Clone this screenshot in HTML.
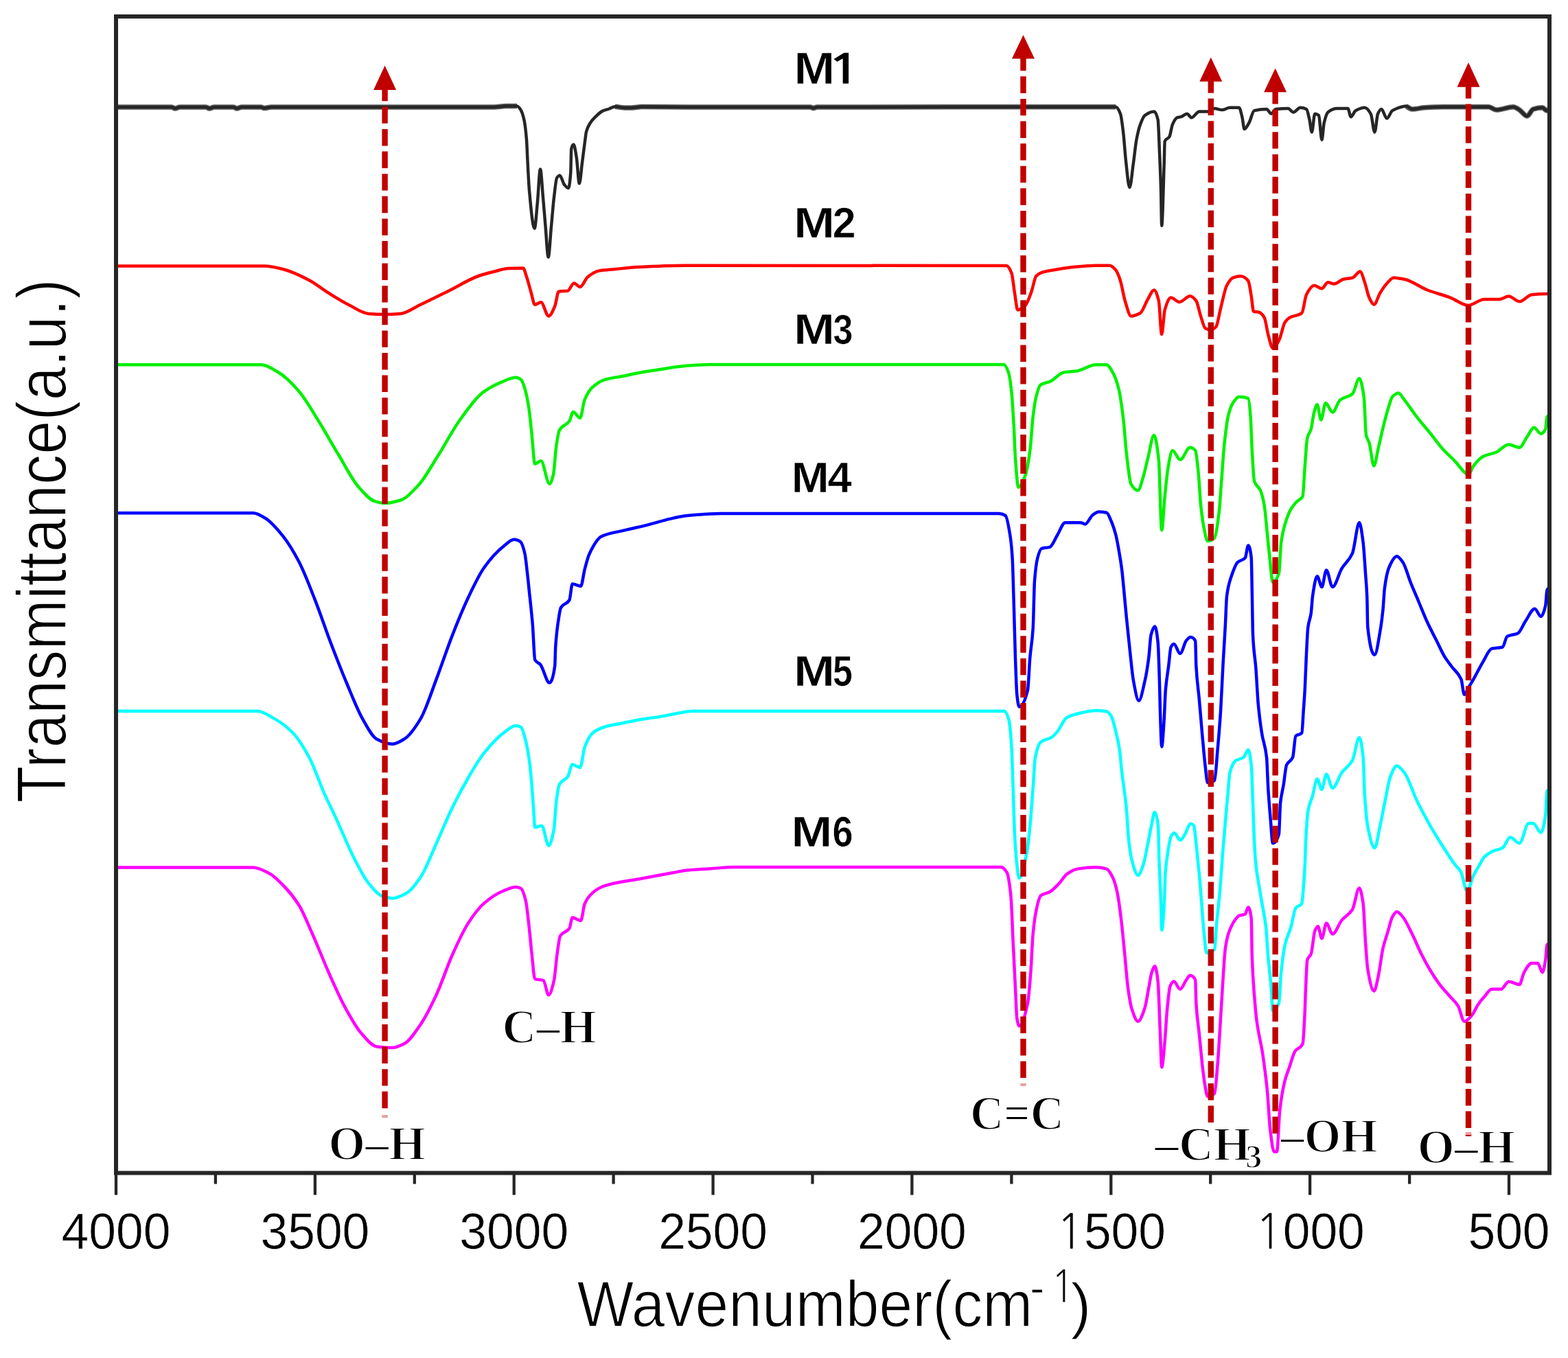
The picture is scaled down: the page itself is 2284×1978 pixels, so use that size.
<!DOCTYPE html>
<html><head><meta charset="utf-8"><title>FTIR spectra</title><style>html,body{margin:0;padding:0;background:#fff;}svg{display:block;}</style></head><body>
<svg width="2284" height="1978" viewBox="0 0 2284 1978">
<rect x="0" y="0" width="2284" height="1978" fill="#ffffff"/>
<g fill="none" stroke-linejoin="round" stroke-linecap="butt">
<path d="M169.0,156.0C196.0,156.0 223.0,156.0 250.0,156.0C251.7,156.0 253.3,158.0 255.0,158.0C257.3,158.0 259.7,156.0 262.0,156.0C274.7,156.0 287.3,156.0 300.0,156.0C301.7,156.0 303.3,158.0 305.0,158.0C307.3,158.0 309.7,156.0 312.0,156.0C321.3,156.0 330.7,156.0 340.0,156.0C341.7,156.0 343.3,158.0 345.0,158.0C347.3,158.0 349.7,156.0 352.0,156.0C361.3,156.0 370.7,156.0 380.0,156.0C381.7,156.0 383.3,157.5 385.0,157.5C388.3,157.5 391.7,156.0 395.0,156.0C503.3,156.0 611.7,156.0 720.0,156.0C725.7,156.0 731.3,154.5 737.0,154.5C742.3,154.5 747.7,154.5 753.0,154.5" stroke="#606060" stroke-width="7.5"/>
<path d="M895.8,155.2C900.5,155.8 905.3,157.0 910.0,157.0C913.3,157.0 916.7,157.0 920.0,157.0C925.0,157.0 930.0,155.5 935.0,155.5C956.7,155.5 978.3,156.0 1000.0,156.0C1060.0,156.0 1120.0,156.0 1180.0,156.0C1181.7,156.0 1183.3,157.5 1185.0,157.5C1186.7,157.5 1188.3,156.0 1190.0,156.0C1335.1,155.7 1480.2,155.8 1625.3,155.7" stroke="#606060" stroke-width="7.5"/>
<path d="M2048.0,154.6C2051.0,156.1 2054.0,159.0 2057.0,159.0C2062.9,159.0 2068.9,157.2 2074.8,156.8C2083.7,156.2 2092.7,155.7 2101.6,155.7C2123.9,155.7 2146.3,155.7 2168.6,155.7C2172.3,155.7 2176.1,160.1 2179.8,160.1C2188.0,160.1 2196.1,155.7 2204.3,155.7C2207.3,155.7 2210.3,158.3 2213.3,160.1C2217.0,162.3 2220.7,169.0 2224.4,169.0C2227.4,169.0 2230.4,159.9 2233.4,159.0C2237.8,157.7 2242.3,156.8 2246.7,156.8C2248.9,156.8 2251.2,161.3 2253.4,161.3C2254.6,161.3 2255.8,159.1 2257.0,158.0" stroke="#606060" stroke-width="7.5"/>
<path d="M169.0,156.0C196.0,156.0 223.0,156.0 250.0,156.0C251.7,156.0 253.3,158.0 255.0,158.0C257.3,158.0 259.7,156.0 262.0,156.0C274.7,156.0 287.3,156.0 300.0,156.0C301.7,156.0 303.3,158.0 305.0,158.0C307.3,158.0 309.7,156.0 312.0,156.0C321.3,156.0 330.7,156.0 340.0,156.0C341.7,156.0 343.3,158.0 345.0,158.0C347.3,158.0 349.7,156.0 352.0,156.0C361.3,156.0 370.7,156.0 380.0,156.0C381.7,156.0 383.3,157.5 385.0,157.5C388.3,157.5 391.7,156.0 395.0,156.0C503.3,156.0 611.7,156.0 720.0,156.0C725.7,156.0 731.3,154.5 737.0,154.5C742.3,154.5 747.7,154.5 753.0,154.5C754.8,154.5 756.7,157.2 758.5,160.0C760.2,162.5 761.8,167.5 763.5,175.0C764.7,180.3 765.8,189.3 767.0,203.7C767.5,209.9 768.0,224.6 768.5,234.0C769.3,249.7 770.2,268.2 771.0,277.4C773.5,305.3 776.1,332.6 778.6,332.6C780.0,332.6 781.4,309.9 782.8,295.8C784.2,281.7 785.6,246.4 787.0,246.4C788.3,246.4 789.7,272.7 791.0,287.4C792.2,300.3 793.3,315.8 794.5,329.0C795.9,344.9 797.3,374.5 798.7,374.5C800.1,374.5 801.5,345.7 802.9,331.0C804.3,316.7 805.6,298.7 807.0,287.4C808.4,275.8 809.8,261.0 811.2,259.0C812.6,257.0 814.0,255.6 815.4,255.6C817.6,255.6 819.8,266.4 822.0,269.0C824.0,271.3 826.0,274.0 828.0,274.0C829.1,274.0 830.2,265.7 831.3,250.6C831.6,246.5 831.9,218.4 832.2,217.0C833.3,212.0 834.4,210.4 835.5,210.4C836.9,210.4 838.3,220.5 839.7,228.8C841.1,237.1 842.5,267.3 843.9,267.3C845.3,267.3 846.6,247.5 848.0,237.2C849.4,226.4 850.9,214.1 852.3,203.7C852.9,199.6 853.4,194.2 854.0,192.0C855.7,185.7 857.3,183.0 859.0,180.3C861.8,175.8 864.5,172.9 867.3,170.2C870.7,166.9 874.0,163.5 877.4,161.9C880.7,160.3 884.1,159.7 887.4,158.5C890.2,157.5 893.0,155.2 895.8,155.2C900.5,155.2 905.3,157.0 910.0,157.0C913.3,157.0 916.7,157.0 920.0,157.0C925.0,157.0 930.0,155.5 935.0,155.5C956.7,155.5 978.3,156.0 1000.0,156.0C1060.0,156.0 1120.0,156.0 1180.0,156.0C1181.7,156.0 1183.3,157.5 1185.0,157.5C1186.7,157.5 1188.3,156.0 1190.0,156.0C1335.1,155.7 1480.2,155.7 1625.3,155.7C1627.5,155.7 1629.8,160.0 1632.0,165.7C1633.5,169.4 1634.9,182.4 1636.4,194.7C1637.5,204.2 1638.7,222.6 1639.8,232.7C1641.7,249.3 1643.5,272.9 1645.4,272.9C1647.3,272.9 1649.1,250.0 1651.0,237.0C1652.5,226.8 1653.9,211.5 1655.4,203.7C1657.3,193.8 1659.1,186.3 1661.0,181.3C1663.2,175.3 1665.5,169.7 1667.7,168.0C1672.1,164.7 1676.6,162.4 1681.0,162.4C1682.9,162.4 1684.8,166.2 1686.7,174.6C1687.4,177.8 1688.2,202.4 1688.9,219.3C1689.6,235.4 1690.3,251.1 1691.0,275.0C1691.4,288.6 1691.8,328.7 1692.2,328.7C1693.3,328.7 1694.5,274.7 1695.6,241.6C1696.0,230.9 1696.3,206.9 1696.7,206.0C1698.9,200.3 1701.2,203.0 1703.4,199.2C1704.9,196.7 1706.4,184.7 1707.9,181.3C1710.1,176.3 1712.3,172.1 1714.5,171.3C1716.3,170.7 1718.2,170.7 1720.0,170.2C1723.0,169.4 1726.0,165.7 1729.0,165.7C1731.2,165.7 1733.4,171.3 1735.6,171.3C1739.3,171.3 1743.1,162.4 1746.8,162.4C1751.2,162.4 1755.6,162.4 1760.0,162.4C1763.0,162.4 1766.0,158.0 1769.0,158.0C1772.8,158.0 1776.5,160.1 1780.3,160.1C1784.0,160.1 1787.7,156.8 1791.4,156.8C1795.9,156.8 1800.3,156.8 1804.8,156.8C1806.3,156.8 1807.8,164.4 1809.3,170.2C1810.4,174.5 1811.5,188.0 1812.6,188.0C1814.8,188.0 1817.1,182.8 1819.3,179.0C1821.9,174.7 1824.4,161.9 1827.0,161.2C1833.0,159.6 1839.0,159.0 1845.0,159.0C1847.2,159.0 1849.5,165.7 1851.7,165.7C1853.9,165.7 1856.2,159.3 1858.4,159.0C1864.4,158.3 1870.3,158.0 1876.2,158.0C1878.8,158.0 1881.4,163.5 1884.0,163.5C1887.3,163.5 1890.7,156.8 1894.0,156.8C1897.0,156.8 1900.0,157.5 1903.0,159.0C1904.5,159.8 1906.0,168.2 1907.5,174.6C1908.6,179.3 1909.7,192.5 1910.8,192.5C1912.3,192.5 1913.8,165.7 1915.3,165.7C1917.2,165.7 1919.1,166.5 1921.0,168.0C1922.5,169.2 1923.9,203.7 1925.4,203.7C1926.5,203.7 1927.6,183.6 1928.7,179.0C1930.6,171.1 1932.4,165.0 1934.3,163.5C1938.8,159.9 1943.2,158.0 1947.7,158.0C1952.9,158.0 1958.1,158.0 1963.3,158.0C1964.8,158.0 1966.3,170.2 1967.8,170.2C1970.0,170.2 1972.3,162.5 1974.5,161.2C1979.0,158.7 1983.4,156.8 1987.9,156.8C1990.9,156.8 1993.8,160.7 1996.8,166.0C1998.7,169.3 2000.5,192.5 2002.4,192.5C2003.9,192.5 2005.5,168.9 2007.0,165.7C2008.8,162.0 2010.5,159.0 2012.3,159.0C2014.9,159.0 2017.5,172.4 2020.1,172.4C2022.7,172.4 2025.4,163.2 2028.0,161.3C2030.2,159.7 2032.5,158.8 2034.7,158.0C2039.1,156.5 2043.6,154.6 2048.0,154.6C2051.0,154.6 2054.0,159.0 2057.0,159.0C2062.9,159.0 2068.9,157.2 2074.8,156.8C2083.7,156.2 2092.7,155.7 2101.6,155.7C2123.9,155.7 2146.3,155.7 2168.6,155.7C2172.3,155.7 2176.1,160.1 2179.8,160.1C2188.0,160.1 2196.1,155.7 2204.3,155.7C2207.3,155.7 2210.3,158.3 2213.3,160.1C2217.0,162.3 2220.7,169.0 2224.4,169.0C2227.4,169.0 2230.4,159.9 2233.4,159.0C2237.8,157.7 2242.3,156.8 2246.7,156.8C2248.9,156.8 2251.2,161.3 2253.4,161.3C2254.6,161.3 2255.8,159.1 2257.0,158.0" stroke="#262626" stroke-width="4.5"/>
<path d="M169.0,387.5C241.3,387.5 313.7,387.5 386.0,387.5C394.7,387.5 403.3,389.9 412.0,392.0C424.7,395.0 437.3,401.4 450.0,408.0C459.7,413.0 469.3,421.0 479.0,427.0C488.7,433.0 498.3,439.1 508.0,444.0C517.7,448.9 527.3,456.3 537.0,457.0C544.7,457.6 552.3,458.0 560.0,458.0C567.7,458.0 575.3,457.6 583.0,457.0C592.7,456.3 602.3,448.5 612.0,444.0C625.7,437.6 639.3,430.7 653.0,424.0C667.7,416.8 682.3,407.1 697.0,402.0C704.7,399.3 712.3,397.4 720.0,395.5C726.7,393.8 733.3,391.3 740.0,391.0C747.3,390.7 754.7,390.5 762.0,390.5C763.7,390.5 765.3,398.2 767.0,403.0C769.2,409.4 771.4,418.6 773.6,426.0C775.4,432.1 777.2,443.7 779.0,443.7C782.0,443.7 785.0,440.3 788.0,440.3C791.7,440.3 795.5,460.4 799.2,460.4C802.2,460.4 805.2,453.0 808.2,446.0C810.1,441.7 811.9,425.0 813.8,424.7C818.2,423.9 822.6,424.3 827.0,423.6C830.0,423.1 833.0,412.4 836.0,412.4C839.0,412.4 842.0,418.0 845.0,418.0C848.7,418.0 852.3,406.5 856.0,403.5C861.3,399.2 866.5,395.6 871.8,394.6C879.2,393.3 886.6,393.0 894.0,392.3C905.9,391.1 917.9,389.6 929.8,389.0C952.1,387.8 974.5,386.7 996.8,386.7C1153.2,386.7 1309.6,386.7 1466.0,387.0C1468.5,387.0 1471.0,391.6 1473.5,397.9C1475.0,401.7 1476.5,417.9 1478.0,426.9C1479.5,435.7 1480.9,451.4 1482.4,451.4C1486.1,451.4 1489.9,448.3 1493.6,444.7C1496.6,441.8 1499.5,432.7 1502.5,424.6C1504.7,418.5 1507.0,404.8 1509.2,402.3C1512.1,399.1 1515.1,397.7 1518.0,396.7C1525.5,394.3 1532.9,393.6 1540.4,392.3C1547.9,391.0 1555.3,389.7 1562.8,389.0C1574.0,387.9 1585.1,386.7 1596.2,386.7C1602.9,386.7 1609.6,386.7 1616.3,386.7C1619.3,386.7 1622.3,389.9 1625.3,393.4C1627.5,396.0 1629.8,402.2 1632.0,409.0C1634.2,415.8 1636.5,430.8 1638.7,438.0C1641.7,447.6 1644.6,460.4 1647.6,460.4C1652.1,460.4 1656.5,458.5 1661.0,456.0C1664.7,453.9 1668.3,441.8 1672.0,435.8C1675.0,430.9 1678.0,422.4 1681.0,422.4C1683.3,422.4 1685.5,429.0 1687.8,438.0C1689.3,443.9 1690.7,487.0 1692.2,487.0C1693.7,487.0 1695.2,456.5 1696.7,451.4C1699.7,441.3 1702.6,433.6 1705.6,433.6C1709.7,433.6 1713.9,440.0 1718.0,440.0C1723.1,440.0 1728.3,431.3 1733.4,431.3C1736.4,431.3 1739.3,434.2 1742.3,438.0C1744.5,440.8 1746.8,453.8 1749.0,460.4C1751.2,467.0 1753.5,477.0 1755.7,478.2C1758.3,479.6 1760.9,480.4 1763.5,480.4C1766.1,480.4 1768.7,478.6 1771.3,476.0C1773.5,473.7 1775.8,457.8 1778.0,449.2C1781.0,437.6 1784.0,421.3 1787.0,415.7C1790.0,410.2 1792.9,405.7 1795.9,404.6C1799.6,403.2 1803.3,402.3 1807.0,402.3C1810.7,402.3 1814.5,404.5 1818.2,409.0C1819.7,410.8 1821.2,422.6 1822.7,431.3C1823.8,437.7 1824.9,453.4 1826.0,453.7C1828.6,454.5 1831.2,454.2 1833.8,454.8C1836.4,455.4 1839.0,458.2 1841.7,462.6C1843.5,465.7 1845.4,480.5 1847.2,487.1C1849.5,495.2 1851.7,507.2 1854.0,507.2C1857.0,507.2 1859.9,501.3 1862.9,496.0C1865.9,490.7 1868.8,473.6 1871.8,469.3C1874.0,466.0 1876.3,463.9 1878.5,462.6C1884.4,459.1 1890.4,460.6 1896.3,455.9C1898.5,454.1 1900.8,433.3 1903.0,429.0C1906.7,421.8 1910.5,415.7 1914.2,415.7C1917.9,415.7 1921.7,420.2 1925.4,420.2C1928.4,420.2 1931.3,411.2 1934.3,411.2C1937.3,411.2 1940.2,413.5 1943.2,413.5C1947.7,413.5 1952.1,407.9 1956.6,406.8C1961.1,405.7 1965.5,405.8 1970.0,404.6C1973.7,403.6 1977.5,395.6 1981.2,395.6C1983.4,395.6 1985.7,405.1 1987.9,411.2C1990.1,417.3 1992.3,429.2 1994.5,433.6C1996.8,438.3 1999.2,443.5 2001.5,443.5C2004.4,443.5 2007.3,431.6 2010.2,426.9C2013.5,421.6 2016.7,416.4 2020.0,413.0C2023.4,409.5 2026.8,404.6 2030.2,404.6C2035.4,404.6 2040.6,405.7 2045.8,406.8C2057.0,409.1 2068.1,418.2 2079.3,422.5C2090.5,426.8 2101.6,429.4 2112.8,433.6C2121.4,436.8 2129.9,444.8 2138.5,444.8C2146.3,444.8 2154.1,435.9 2161.9,435.9C2169.3,435.9 2176.8,435.9 2184.2,435.9C2188.7,435.9 2193.1,431.4 2197.6,431.4C2202.8,431.4 2208.1,439.2 2213.3,439.2C2219.2,439.2 2225.2,429.8 2231.1,429.2C2238.5,428.4 2246.0,428.0 2253.4,428.0C2254.6,428.0 2255.8,428.0 2257.0,428.0" stroke="#ff0000" stroke-width="4.5"/>
<path d="M169.0,531.3C239.3,531.3 309.7,531.3 380.0,531.3C388.8,531.3 397.7,537.7 406.5,543.0C416.2,548.8 425.8,558.8 435.5,570.0C445.2,581.2 454.8,598.5 464.5,614.0C474.2,629.5 483.8,647.1 493.5,663.0C503.2,678.9 512.8,698.7 522.5,709.6C530.2,718.3 538.0,727.5 545.7,730.0C550.5,731.5 555.2,733.0 560.0,733.0C567.8,733.0 575.6,730.9 583.4,728.5C592.1,725.8 600.8,716.0 609.5,706.7C619.2,696.4 628.8,678.1 638.5,663.0C649.1,646.4 659.8,625.5 670.4,611.0C681.9,595.2 693.5,578.7 705.0,570.4C714.5,563.6 723.9,559.0 733.4,555.3C739.4,553.0 745.3,549.7 751.2,549.7C753.8,549.7 756.4,551.1 759.0,553.0C760.9,554.4 762.7,560.4 764.6,566.4C766.5,572.4 768.3,581.4 770.2,593.2C771.7,602.7 773.2,619.6 774.7,633.4C776.2,647.2 777.7,675.8 779.2,675.8C782.1,675.8 785.1,671.3 788.0,671.3C792.1,671.3 796.3,704.8 800.4,704.8C802.3,704.8 804.1,698.7 806.0,691.4C807.5,685.6 808.9,658.6 810.4,649.0C811.9,639.2 813.4,629.4 814.9,626.7C819.7,618.1 824.6,620.2 829.4,613.3C831.3,610.6 833.1,600.0 835.0,600.0C838.3,600.0 841.7,608.8 845.0,608.8C847.2,608.8 849.5,587.3 851.7,582.0C855.4,573.2 859.2,567.7 862.9,564.2C868.6,558.9 874.3,555.1 880.0,553.3C889.3,550.3 898.7,549.6 908.0,547.7C917.3,545.8 926.7,543.6 936.0,542.0C945.3,540.4 954.7,539.2 964.0,537.8C971.5,536.6 979.0,534.9 986.5,534.2C1002.3,532.6 1018.2,531.0 1034.0,531.0C1176.7,531.0 1319.3,531.0 1462.0,531.0C1464.3,531.0 1466.7,536.1 1469.0,542.4C1470.5,546.5 1472.0,557.6 1473.5,571.4C1474.6,581.5 1475.7,601.0 1476.8,620.5C1477.5,633.5 1478.3,657.4 1479.0,667.4C1480.5,687.9 1482.0,709.8 1483.5,709.8C1486.9,709.8 1490.2,701.2 1493.6,692.0C1495.8,685.9 1498.1,672.8 1500.3,656.2C1501.8,645.4 1503.2,619.0 1504.7,607.0C1506.2,594.7 1507.7,583.8 1509.2,578.0C1511.4,569.4 1513.7,561.8 1515.9,560.3C1520.4,557.4 1524.8,557.8 1529.3,555.8C1536.0,552.9 1542.7,543.7 1549.4,542.4C1556.1,541.1 1562.8,541.3 1569.5,540.2C1578.4,538.8 1587.3,531.2 1596.2,531.2C1601.5,531.2 1606.7,531.2 1611.9,531.2C1614.9,531.2 1617.8,537.3 1620.8,542.4C1623.8,547.5 1626.7,555.2 1629.7,567.0C1631.9,575.9 1634.2,592.8 1636.4,611.6C1637.9,624.2 1639.4,648.1 1640.9,660.7C1643.1,679.5 1645.4,701.7 1647.6,705.4C1650.9,710.9 1654.3,714.3 1657.6,714.3C1660.2,714.3 1662.8,702.4 1665.4,694.2C1667.6,687.2 1669.8,676.0 1672.0,667.4C1675.0,655.7 1678.0,634.0 1681.0,634.0C1683.3,634.0 1685.5,649.3 1687.8,669.6C1689.3,682.7 1690.7,772.3 1692.2,772.3C1693.7,772.3 1695.2,737.9 1696.7,723.2C1698.2,708.5 1699.7,691.5 1701.2,683.0C1703.4,670.4 1705.7,656.2 1707.9,656.2C1711.6,656.2 1715.3,669.6 1719.0,669.6C1723.8,669.6 1728.6,651.8 1733.4,651.8C1736.0,651.8 1738.6,653.3 1741.2,656.2C1742.7,658.0 1744.2,675.1 1745.7,689.7C1746.8,700.4 1747.9,723.7 1749.0,734.4C1750.5,749.0 1752.0,760.5 1753.5,767.9C1755.3,777.0 1757.2,788.0 1759.0,788.0C1762.4,788.0 1765.7,786.5 1769.1,783.5C1771.3,781.5 1773.6,764.0 1775.8,745.5C1776.9,736.1 1778.1,715.5 1779.2,700.9C1780.7,682.0 1782.1,658.6 1783.6,645.0C1785.5,627.7 1787.3,612.3 1789.2,604.9C1791.4,596.1 1793.7,590.3 1795.9,587.0C1798.9,582.6 1801.8,578.1 1804.8,578.1C1809.3,578.1 1813.7,578.5 1818.2,580.4C1819.3,580.9 1820.5,593.5 1821.6,607.1C1822.3,615.9 1823.1,643.7 1823.8,656.2C1824.9,675.1 1826.0,697.5 1827.1,700.9C1830.1,710.1 1833.0,707.6 1836.0,714.3C1837.9,718.5 1839.8,725.9 1841.7,736.6C1843.1,745.0 1844.6,764.6 1846.1,779.0C1847.2,790.0 1848.4,802.5 1849.5,812.5C1851.0,825.8 1852.5,848.2 1854.0,848.2C1857.0,848.2 1859.9,844.0 1862.9,834.8C1864.0,831.4 1865.1,798.3 1866.2,790.2C1868.1,776.4 1869.9,769.7 1871.8,763.4C1874.8,753.4 1877.7,745.9 1880.7,741.0C1883.7,736.1 1886.6,733.0 1889.6,730.0C1892.2,727.3 1894.9,728.0 1897.5,723.2C1898.6,721.2 1899.7,692.5 1900.8,678.6C1901.9,664.3 1903.1,643.2 1904.2,638.4C1906.0,630.6 1907.9,631.3 1909.7,625.0C1911.2,619.9 1912.7,605.5 1914.2,600.4C1915.7,595.3 1917.2,589.3 1918.7,589.3C1920.5,589.3 1922.4,611.6 1924.2,611.6C1926.5,611.6 1928.7,587.0 1931.0,587.0C1934.3,587.0 1937.7,600.4 1941.0,600.4C1944.7,600.4 1948.4,585.5 1952.1,582.6C1958.1,577.9 1964.0,578.9 1970.0,573.7C1973.3,570.8 1976.7,551.3 1980.0,551.3C1982.2,551.3 1984.5,562.6 1986.7,578.1C1987.8,585.8 1988.9,629.1 1990.0,634.0C1991.5,640.7 1993.0,640.2 1994.5,645.0C1996.7,652.2 1999.0,678.6 2001.2,678.6C2003.4,678.6 2005.7,661.1 2007.9,651.8C2010.1,642.5 2012.4,631.8 2014.6,622.8C2017.2,612.4 2019.8,602.0 2022.4,593.8C2024.3,587.9 2026.1,580.1 2028.0,578.1C2031.0,574.9 2033.9,572.6 2036.9,572.6C2039.9,572.6 2042.8,579.0 2045.8,582.6C2051.8,589.9 2057.7,599.5 2063.7,607.2C2070.4,615.9 2077.1,623.4 2083.8,631.7C2089.7,639.0 2095.7,647.4 2101.6,654.0C2107.6,660.6 2113.5,665.5 2119.5,671.9C2124.0,676.7 2128.4,683.4 2132.9,687.5C2134.8,689.2 2136.6,692.0 2138.5,692.0C2141.1,692.0 2143.7,682.0 2146.3,678.6C2150.8,672.8 2155.2,667.5 2159.7,665.2C2166.4,661.7 2173.1,661.4 2179.8,658.5C2185.7,655.9 2191.7,647.4 2197.6,647.4C2202.8,647.4 2208.1,651.8 2213.3,651.8C2217.0,651.8 2220.7,641.2 2224.4,636.2C2227.8,631.6 2231.1,622.8 2234.5,622.8C2237.8,622.8 2241.2,631.7 2244.5,631.7C2246.7,631.7 2249.0,629.6 2251.2,625.0C2251.9,623.5 2252.7,608.1 2253.4,607.2C2254.6,605.7 2255.8,605.7 2257.0,605.0" stroke="#00f000" stroke-width="4.5"/>
<path d="M169.0,747.3C235.6,747.3 302.2,747.3 368.8,747.3C374.5,747.3 380.3,751.2 386.0,754.5C394.7,759.5 403.3,769.9 412.0,780.6C419.8,790.3 427.7,803.3 435.5,818.3C443.2,833.1 451.0,853.8 458.7,873.4C466.5,893.1 474.2,916.6 482.0,937.0C489.7,957.1 497.3,976.8 505.0,995.0C512.8,1013.5 520.5,1033.9 528.3,1047.4C535.1,1059.2 541.8,1072.9 548.6,1076.4C556.3,1080.4 564.1,1083.7 571.8,1083.7C577.5,1083.7 583.3,1079.9 589.0,1076.4C596.8,1071.6 604.6,1060.3 612.4,1047.4C620.1,1034.6 627.9,1009.7 635.6,989.4C643.3,969.1 651.1,945.3 658.8,925.6C666.5,905.9 674.3,886.8 682.0,870.5C689.7,854.4 697.3,837.8 705.0,827.0C714.5,813.7 723.9,803.3 733.4,795.8C738.6,791.7 743.8,785.8 749.0,785.8C752.0,785.8 755.0,787.0 758.0,789.0C760.2,790.4 762.4,797.6 764.6,807.0C765.7,811.8 766.9,824.0 768.0,833.8C769.1,843.2 770.2,854.4 771.3,865.0C772.8,879.5 774.3,891.5 775.8,909.6C776.9,923.3 778.1,958.9 779.2,961.0C781.8,965.8 784.4,964.7 787.0,967.7C791.5,972.9 795.9,994.5 800.4,994.5C803.0,994.5 805.6,988.2 808.2,970.0C808.6,967.4 808.9,946.5 809.3,941.0C810.8,918.8 812.3,909.9 813.8,900.7C814.8,894.0 815.9,886.9 817.0,885.0C821.1,877.8 825.3,881.1 829.4,874.0C830.9,871.5 832.3,850.5 833.8,850.5C837.9,850.5 841.9,853.8 846.0,853.8C847.9,853.8 849.8,836.5 851.7,829.3C853.9,820.9 856.2,811.8 858.4,807.0C864.4,794.3 870.3,784.2 876.2,781.3C887.4,775.9 898.6,775.2 909.7,772.4C920.9,769.6 932.0,767.4 943.2,764.6C954.4,761.8 965.5,758.1 976.7,755.6C984.1,753.9 991.6,752.0 999.0,751.2C1016.0,749.5 1033.0,748.0 1050.0,748.0C1185.0,748.0 1320.0,748.0 1455.0,748.0C1458.2,748.0 1461.4,749.0 1464.6,751.0C1466.8,752.4 1469.0,765.2 1471.2,779.0C1472.4,785.9 1473.5,795.0 1474.6,812.5C1475.3,824.0 1476.1,855.9 1476.8,880.0C1477.5,904.1 1478.3,937.3 1479.0,958.0C1479.8,979.6 1480.5,1004.7 1481.3,1011.7C1482.4,1021.8 1483.5,1029.6 1484.6,1029.6C1488.7,1029.6 1492.9,1021.9 1497.0,1005.0C1498.1,1000.5 1499.2,970.7 1500.3,958.0C1501.8,941.0 1503.2,938.3 1504.7,915.7C1505.5,903.9 1506.2,856.0 1507.0,846.0C1508.5,827.0 1509.9,818.0 1511.4,812.5C1513.3,805.5 1515.1,799.7 1517.0,799.0C1521.1,797.5 1525.2,798.2 1529.3,796.9C1533.0,795.7 1536.7,784.9 1540.4,779.0C1544.1,773.0 1547.9,761.2 1551.6,761.2C1559.1,761.2 1566.5,761.2 1574.0,761.2C1576.2,761.2 1578.4,763.4 1580.6,763.4C1584.3,763.4 1588.1,752.6 1591.8,750.0C1594.8,747.9 1597.7,745.5 1600.7,745.5C1604.4,745.5 1608.2,745.9 1611.9,746.7C1614.1,747.2 1616.4,753.9 1618.6,759.0C1620.8,764.1 1623.1,770.5 1625.3,779.0C1626.8,784.6 1628.2,793.0 1629.7,801.3C1631.2,809.8 1632.7,818.4 1634.2,830.4C1635.3,839.2 1636.4,852.4 1637.5,863.8C1638.6,875.6 1639.8,888.6 1640.9,900.0C1641.6,907.0 1642.3,913.5 1643.0,920.2C1644.2,931.4 1645.3,943.2 1646.5,953.7C1648.0,967.2 1649.5,983.6 1651.0,991.6C1653.6,1005.5 1656.2,1020.6 1658.8,1020.6C1661.7,1020.6 1664.7,1004.4 1667.7,991.6C1669.6,983.6 1671.4,972.4 1673.3,958.0C1674.4,949.5 1675.5,928.8 1676.6,924.6C1678.5,917.5 1680.3,912.4 1682.2,912.4C1683.7,912.4 1685.2,921.8 1686.7,935.8C1687.4,942.6 1688.2,968.1 1688.9,991.6C1689.3,1003.3 1689.6,1025.0 1690.0,1036.2C1690.7,1058.7 1691.5,1087.6 1692.2,1087.6C1693.3,1087.6 1694.5,1066.3 1695.6,1049.6C1696.3,1038.8 1697.1,1013.8 1697.8,1005.0C1699.3,987.0 1700.8,981.3 1702.3,969.3C1703.4,960.5 1704.5,944.6 1705.6,942.5C1707.1,939.7 1708.5,938.0 1710.0,938.0C1713.0,938.0 1716.0,952.0 1719.0,952.0C1722.0,952.0 1725.0,936.5 1728.0,933.0C1730.0,930.7 1732.0,928.0 1734.0,928.0C1736.4,928.0 1738.8,928.8 1741.2,933.6C1741.6,934.3 1741.9,962.6 1742.3,969.3C1743.8,996.5 1745.3,1001.6 1746.8,1018.4C1748.3,1035.0 1749.8,1053.4 1751.2,1069.7C1752.7,1086.0 1754.2,1104.1 1755.7,1116.6C1756.8,1125.8 1757.9,1140.0 1759.0,1140.0C1762.4,1140.0 1765.7,1139.1 1769.1,1136.7C1770.6,1135.6 1772.1,1108.7 1773.6,1092.0C1775.1,1075.7 1776.5,1059.1 1778.0,1036.2C1779.1,1018.6 1780.3,989.9 1781.4,969.3C1782.5,949.3 1783.6,933.6 1784.7,913.5C1785.5,899.5 1786.2,874.4 1787.0,868.3C1789.2,850.6 1791.5,846.0 1793.7,839.3C1796.7,830.4 1799.6,822.1 1802.6,819.2C1806.3,815.6 1810.0,816.8 1813.8,812.5C1815.2,810.8 1816.7,794.6 1818.2,794.6C1819.7,794.6 1821.2,799.3 1822.7,812.5C1823.1,815.7 1823.4,843.9 1823.8,861.6C1824.2,880.9 1824.6,916.2 1825.0,924.6C1826.5,955.4 1827.9,954.5 1829.4,973.8C1830.5,988.2 1831.6,1013.1 1832.7,1025.0C1834.6,1045.2 1836.4,1058.1 1838.3,1069.7C1840.5,1083.5 1842.8,1083.2 1845.0,1103.2C1845.7,1109.8 1846.5,1136.0 1847.2,1147.9C1848.3,1166.3 1849.5,1179.3 1850.6,1192.5C1851.7,1205.7 1852.9,1228.2 1854.0,1228.2C1857.0,1228.2 1859.9,1225.0 1862.9,1214.8C1863.6,1212.4 1864.3,1177.1 1865.0,1170.2C1866.5,1155.1 1868.1,1152.9 1869.6,1143.4C1871.1,1134.3 1872.5,1117.7 1874.0,1114.4C1877.0,1107.6 1880.0,1110.1 1883.0,1103.2C1884.5,1099.8 1885.9,1073.5 1887.4,1072.0C1890.4,1068.9 1893.3,1071.0 1896.3,1067.5C1897.1,1066.6 1897.8,1047.3 1898.6,1036.2C1899.3,1025.7 1900.1,1016.3 1900.8,1002.8C1901.5,989.3 1902.3,965.6 1903.0,951.4C1903.8,936.6 1904.5,919.3 1905.3,913.5C1906.8,902.3 1908.2,903.3 1909.7,893.4C1910.5,888.2 1911.2,873.4 1912.0,868.3C1914.2,853.4 1916.5,839.3 1918.7,839.3C1920.9,839.3 1923.2,855.0 1925.4,855.0C1927.6,855.0 1929.8,830.4 1932.0,830.4C1935.0,830.4 1938.0,855.0 1941.0,855.0C1945.5,855.0 1949.9,835.6 1954.4,828.1C1959.6,819.4 1964.8,817.5 1970.0,805.8C1973.3,798.3 1976.7,761.2 1980.0,761.2C1981.9,761.2 1983.7,775.8 1985.6,790.2C1986.7,798.9 1987.9,818.7 1989.0,834.8C1989.7,845.2 1990.5,851.1 1991.2,868.3C1991.6,876.9 1991.9,910.1 1992.3,913.5C1995.7,944.8 1999.0,953.7 2002.4,953.7C2005.0,953.7 2007.6,934.9 2010.2,920.2C2011.7,911.9 2013.1,901.4 2014.6,886.7C2015.3,879.4 2016.1,862.7 2016.8,857.2C2019.0,840.4 2021.3,831.0 2023.5,826.0C2027.2,817.6 2031.0,810.3 2034.7,810.3C2037.7,810.3 2040.6,815.0 2043.6,819.3C2047.3,824.6 2051.0,839.1 2054.7,848.3C2058.4,857.6 2062.2,866.1 2065.9,875.0C2070.4,885.6 2074.8,897.1 2079.3,906.8C2083.8,916.5 2088.2,924.7 2092.7,933.6C2096.4,941.0 2100.2,949.8 2103.9,955.9C2107.6,962.0 2111.3,966.4 2115.0,971.5C2119.5,977.6 2123.9,979.0 2128.4,989.4C2129.9,992.9 2131.4,1011.7 2132.9,1011.7C2135.1,1011.7 2137.4,1004.3 2139.6,1000.6C2141.8,996.9 2144.1,993.3 2146.3,989.4C2150.8,981.6 2155.2,972.2 2159.7,964.8C2164.2,957.4 2168.6,945.9 2173.1,944.7C2178.3,943.3 2183.5,944.1 2188.7,942.5C2190.9,941.8 2193.2,928.2 2195.4,926.9C2200.6,923.9 2205.8,925.0 2211.0,922.4C2214.7,920.5 2218.5,910.0 2222.2,904.6C2226.7,898.1 2231.1,886.7 2235.6,886.7C2238.6,886.7 2241.5,897.9 2244.5,897.9C2246.7,897.9 2249.0,891.7 2251.2,882.2C2251.9,879.1 2252.7,861.9 2253.4,860.0C2254.6,856.9 2255.8,856.7 2257.0,855.0" stroke="#0000ff" stroke-width="4.5"/>
<path d="M169.0,1035.8C237.5,1035.8 306.1,1035.8 374.6,1035.8C383.3,1035.8 392.0,1042.5 400.7,1047.4C409.4,1052.3 418.1,1058.7 426.8,1067.7C434.5,1075.7 442.3,1088.3 450.0,1102.5C457.7,1116.7 465.5,1140.5 473.2,1157.6C478.0,1168.3 482.9,1177.7 487.7,1188.0C497.4,1208.7 507.0,1233.3 516.7,1251.8C523.5,1264.7 530.2,1278.4 537.0,1286.6C543.8,1294.8 550.5,1303.3 557.3,1305.5C562.1,1307.0 567.0,1308.4 571.8,1308.4C578.5,1308.4 585.3,1304.7 592.0,1301.0C598.8,1297.2 605.6,1288.0 612.4,1278.0C620.1,1266.7 627.9,1245.5 635.6,1228.6C643.3,1211.7 651.1,1192.2 658.8,1176.4C666.5,1160.6 674.3,1146.2 682.0,1133.0C689.7,1119.8 697.5,1106.3 705.2,1096.7C715.3,1084.1 725.5,1073.1 735.6,1065.9C740.8,1062.2 746.0,1057.0 751.2,1057.0C753.8,1057.0 756.4,1057.8 759.0,1059.2C761.3,1060.4 763.5,1070.4 765.8,1079.3C767.6,1086.5 769.5,1096.5 771.3,1110.0C772.4,1118.4 773.6,1131.3 774.7,1144.6C775.5,1153.6 776.2,1165.7 777.0,1176.0C777.7,1185.8 778.5,1205.0 779.2,1205.0C782.5,1205.0 785.9,1202.7 789.2,1202.7C792.5,1202.7 795.9,1231.7 799.2,1231.7C801.8,1231.7 804.4,1221.0 807.0,1207.0C808.1,1200.9 809.3,1175.6 810.4,1167.0C811.9,1155.6 813.4,1145.1 814.9,1142.4C818.9,1135.3 823.0,1137.0 827.0,1131.2C829.3,1128.0 831.5,1113.4 833.8,1113.4C837.5,1113.4 841.3,1117.9 845.0,1117.9C847.2,1117.9 849.5,1094.1 851.7,1088.2C855.4,1078.3 859.2,1071.2 862.9,1068.0C868.6,1063.2 874.3,1060.8 880.0,1059.0C889.3,1056.1 898.7,1054.9 908.0,1053.0C917.3,1051.1 926.7,1049.1 936.0,1047.5C945.3,1045.9 954.7,1045.0 964.0,1043.4C973.3,1041.8 982.7,1039.4 992.0,1038.0C998.0,1037.1 1004.0,1035.8 1010.0,1035.8C1161.0,1035.8 1312.0,1035.8 1463.0,1035.8C1465.2,1035.8 1467.4,1041.2 1469.6,1049.0C1470.9,1053.6 1472.2,1067.8 1473.5,1087.6C1474.2,1098.8 1475.0,1127.2 1475.7,1147.9C1476.5,1169.5 1477.2,1200.3 1478.0,1214.8C1479.1,1235.6 1480.2,1250.3 1481.3,1259.5C1482.4,1268.4 1483.4,1279.0 1484.5,1279.0C1488.3,1279.0 1492.0,1260.7 1495.8,1241.6C1497.3,1234.0 1498.8,1218.9 1500.3,1203.7C1501.8,1188.8 1503.2,1167.1 1504.7,1147.9C1505.8,1133.5 1506.9,1108.8 1508.0,1103.2C1510.6,1089.7 1513.3,1083.0 1515.9,1080.9C1521.1,1076.7 1526.3,1077.4 1531.5,1074.2C1534.5,1072.4 1537.4,1068.8 1540.4,1065.3C1544.9,1060.0 1549.3,1047.7 1553.8,1045.2C1560.5,1041.4 1567.3,1039.9 1574.0,1038.5C1581.4,1036.9 1588.8,1035.1 1596.2,1035.1C1601.5,1035.1 1606.7,1035.4 1611.9,1036.2C1614.1,1036.6 1616.4,1039.5 1618.6,1043.0C1620.8,1046.5 1623.1,1056.4 1625.3,1065.3C1627.1,1072.6 1629.0,1079.7 1630.8,1092.0C1631.9,1099.6 1633.1,1115.9 1634.2,1125.5C1635.3,1134.8 1636.4,1141.3 1637.5,1150.0C1638.7,1159.3 1639.8,1167.5 1641.0,1180.0C1642.0,1190.7 1643.0,1213.1 1644.0,1222.3C1645.5,1236.4 1647.1,1246.6 1648.6,1252.4C1651.6,1263.9 1654.7,1275.0 1657.7,1275.0C1660.2,1275.0 1662.7,1267.0 1665.2,1260.0C1667.2,1254.4 1669.2,1242.3 1671.2,1232.8C1673.2,1223.3 1675.2,1211.9 1677.2,1202.7C1678.7,1195.6 1680.3,1183.0 1681.8,1183.0C1683.5,1183.0 1685.3,1188.8 1687.0,1202.7C1687.5,1206.7 1688.0,1241.3 1688.5,1255.4C1689.3,1277.0 1690.0,1287.7 1690.8,1308.2C1691.3,1321.5 1691.8,1354.8 1692.3,1354.8C1693.5,1354.8 1694.8,1333.4 1696.0,1312.7C1696.5,1303.7 1697.1,1277.6 1697.6,1270.5C1698.8,1254.0 1700.1,1248.0 1701.3,1240.4C1702.8,1230.9 1704.4,1220.3 1705.9,1217.8C1707.4,1215.3 1708.9,1213.3 1710.4,1213.3C1713.4,1213.3 1716.4,1223.8 1719.4,1223.8C1721.4,1223.8 1723.4,1219.2 1725.4,1216.3C1728.4,1211.9 1731.5,1199.7 1734.5,1199.7C1736.0,1199.7 1737.5,1200.8 1739.0,1202.7C1740.0,1204.0 1741.0,1216.7 1742.0,1225.3C1743.0,1233.9 1744.0,1245.4 1745.0,1255.4C1746.0,1265.4 1747.0,1274.2 1748.0,1285.6C1748.8,1294.4 1749.5,1306.0 1750.3,1315.7C1751.5,1331.3 1752.8,1349.2 1754.0,1360.9C1755.2,1371.9 1756.3,1388.0 1757.5,1388.0C1761.4,1388.0 1765.2,1386.9 1769.1,1383.0C1770.1,1382.0 1771.1,1356.9 1772.1,1345.8C1773.6,1328.9 1775.2,1318.0 1776.7,1300.6C1778.2,1283.6 1779.7,1259.1 1781.2,1240.4C1782.7,1221.7 1784.2,1204.7 1785.7,1187.7C1786.7,1176.3 1787.7,1165.4 1788.7,1154.5C1789.6,1144.7 1790.5,1128.9 1791.4,1125.5C1794.4,1114.1 1797.4,1109.8 1800.4,1107.7C1804.1,1105.2 1807.8,1105.7 1811.5,1103.2C1813.7,1101.7 1816.0,1092.0 1818.2,1092.0C1819.7,1092.0 1821.2,1101.1 1822.7,1114.4C1823.5,1121.2 1824.2,1150.7 1825.0,1170.2C1825.7,1188.0 1826.4,1212.6 1827.1,1226.0C1827.9,1240.6 1828.6,1252.7 1829.4,1260.0C1830.9,1273.9 1832.3,1279.8 1833.8,1289.0C1835.3,1298.4 1836.8,1306.8 1838.3,1315.8C1840.2,1326.9 1842.0,1333.3 1843.9,1349.3C1845.0,1358.7 1846.1,1381.3 1847.2,1394.0C1848.7,1411.3 1850.2,1420.6 1851.7,1438.6C1852.5,1447.8 1853.2,1472.0 1854.0,1472.0C1857.0,1472.0 1859.9,1468.7 1862.9,1460.9C1864.0,1458.0 1865.1,1426.9 1866.2,1416.2C1868.1,1398.3 1869.9,1384.2 1871.8,1376.0C1874.8,1363.0 1877.7,1359.5 1880.7,1349.3C1882.9,1341.6 1885.2,1325.4 1887.4,1322.5C1890.4,1318.6 1893.3,1320.8 1896.3,1315.8C1897.1,1314.5 1897.8,1302.6 1898.6,1293.5C1899.3,1284.8 1900.1,1275.0 1900.8,1260.0C1901.2,1251.8 1901.6,1233.8 1902.0,1226.0C1903.1,1204.7 1904.2,1187.6 1905.3,1181.3C1907.5,1168.5 1909.8,1166.8 1912.0,1159.0C1914.2,1151.2 1916.5,1134.5 1918.7,1134.5C1920.9,1134.5 1923.2,1150.0 1925.4,1150.0C1927.6,1150.0 1929.8,1127.8 1932.0,1127.8C1935.0,1127.8 1938.0,1147.9 1941.0,1147.9C1945.5,1147.9 1949.9,1131.6 1954.4,1125.5C1959.6,1118.4 1964.8,1116.9 1970.0,1107.7C1973.3,1101.8 1976.7,1074.2 1980.0,1074.2C1981.9,1074.2 1983.7,1085.7 1985.6,1103.2C1986.4,1110.4 1987.1,1147.5 1987.9,1159.0C1989.4,1180.9 1990.8,1196.2 1992.3,1203.7C1995.7,1220.9 1999.0,1235.0 2002.4,1235.0C2005.0,1235.0 2007.5,1215.2 2010.1,1203.7C2012.3,1193.7 2014.6,1180.8 2016.8,1170.2C2019.8,1156.1 2022.7,1137.1 2025.7,1130.0C2028.7,1122.9 2031.7,1115.5 2034.7,1115.5C2038.4,1115.5 2042.1,1121.0 2045.8,1125.6C2051.8,1133.1 2057.7,1153.5 2063.7,1165.8C2070.4,1179.6 2077.1,1192.0 2083.8,1203.7C2089.7,1214.1 2095.7,1223.5 2101.6,1232.8C2107.6,1242.1 2113.5,1251.5 2119.5,1259.5C2122.3,1263.3 2125.2,1265.0 2128.0,1270.0C2131.0,1275.3 2134.0,1298.0 2137.0,1298.0C2140.0,1298.0 2143.0,1282.2 2146.0,1276.0C2149.0,1269.8 2152.0,1265.2 2155.0,1260.0C2157.3,1256.0 2159.6,1250.7 2161.9,1248.4C2166.4,1243.9 2170.8,1241.5 2175.3,1239.5C2179.8,1237.5 2184.2,1237.5 2188.7,1235.0C2192.4,1232.9 2196.2,1219.4 2199.9,1219.4C2204.4,1219.4 2208.8,1228.3 2213.3,1228.3C2217.8,1228.3 2222.2,1199.3 2226.7,1199.3C2228.9,1199.3 2231.2,1199.3 2233.4,1199.3C2237.1,1199.3 2240.8,1212.7 2244.5,1212.7C2246.7,1212.7 2249.0,1203.1 2251.2,1188.1C2251.9,1183.2 2252.7,1153.4 2253.4,1152.4C2254.6,1150.7 2255.8,1150.8 2257.0,1150.0" stroke="#00ffff" stroke-width="4.5"/>
<path d="M169.0,1263.4C235.6,1263.4 302.2,1263.4 368.8,1263.4C376.5,1263.4 384.3,1268.0 392.0,1272.0C399.7,1276.0 407.5,1284.3 415.2,1292.4C422.0,1299.5 428.7,1307.6 435.5,1318.5C442.3,1329.4 449.0,1346.8 455.8,1362.0C463.5,1379.4 471.3,1399.7 479.0,1417.0C486.7,1434.3 494.5,1452.2 502.2,1466.4C509.9,1480.6 517.7,1495.2 525.4,1504.0C533.1,1512.8 540.9,1523.4 548.6,1524.4C556.3,1525.4 564.1,1526.0 571.8,1526.0C577.6,1526.0 583.4,1523.0 589.2,1520.0C596.9,1516.0 604.7,1503.7 612.4,1492.5C620.1,1481.3 627.9,1465.6 635.6,1449.0C643.3,1432.4 651.1,1408.2 658.8,1391.0C666.5,1373.8 674.3,1356.5 682.0,1344.6C689.7,1332.7 697.5,1322.2 705.2,1315.6C714.6,1307.5 724.0,1301.3 733.4,1297.5C739.4,1295.1 745.3,1292.0 751.2,1292.0C753.8,1292.0 756.4,1292.9 759.0,1294.2C761.3,1295.4 763.5,1302.9 765.8,1312.0C767.3,1317.9 768.7,1332.9 770.2,1345.5C771.7,1358.4 773.2,1376.7 774.7,1390.0C776.2,1403.3 777.7,1425.4 779.2,1426.0C783.3,1427.5 787.3,1426.7 791.4,1428.0C794.0,1428.9 796.6,1449.3 799.2,1449.3C801.8,1449.3 804.4,1439.2 807.0,1428.0C808.5,1421.5 810.0,1400.4 811.5,1390.0C813.0,1379.6 814.5,1365.9 816.0,1363.4C820.5,1355.9 824.9,1358.9 829.4,1352.2C830.9,1350.0 832.3,1336.6 833.8,1336.6C837.9,1336.6 841.9,1341.0 846.0,1341.0C847.9,1341.0 849.8,1320.9 851.7,1316.5C854.7,1309.6 857.6,1305.9 860.6,1303.0C865.8,1297.8 871.0,1294.1 876.2,1292.0C884.2,1288.8 892.1,1287.2 900.0,1285.5C910.8,1283.2 921.7,1281.9 932.5,1280.0C939.7,1278.7 946.8,1277.3 954.0,1276.0C963.0,1274.3 972.0,1272.7 981.0,1271.0C986.5,1270.0 991.9,1268.6 997.4,1268.0C1009.9,1266.6 1022.5,1266.0 1035.0,1265.2C1046.8,1264.4 1058.7,1263.0 1070.5,1263.0C1199.7,1263.0 1328.8,1263.0 1458.0,1263.0C1460.9,1263.0 1463.9,1266.2 1466.8,1271.2C1468.7,1274.4 1470.5,1286.5 1472.4,1304.6C1473.5,1315.2 1474.6,1349.3 1475.7,1371.6C1476.8,1393.9 1477.9,1416.8 1479.0,1438.6C1479.8,1453.8 1480.5,1478.6 1481.3,1483.2C1482.4,1489.8 1483.5,1494.4 1484.6,1494.4C1488.7,1494.4 1492.9,1480.4 1497.0,1461.0C1498.5,1454.1 1499.9,1435.1 1501.4,1416.2C1502.5,1402.1 1503.6,1372.0 1504.7,1360.4C1506.2,1344.6 1507.7,1334.1 1509.2,1327.0C1511.4,1316.4 1513.7,1306.4 1515.9,1304.6C1520.4,1301.0 1524.8,1301.6 1529.3,1299.0C1533.8,1296.4 1538.2,1291.5 1542.7,1286.8C1546.4,1282.9 1550.1,1276.1 1553.8,1273.4C1559.0,1269.6 1564.3,1266.4 1569.5,1265.6C1578.4,1264.2 1587.3,1263.3 1596.2,1263.3C1601.5,1263.3 1606.7,1264.1 1611.9,1265.6C1614.9,1266.5 1617.8,1272.0 1620.8,1277.9C1623.0,1282.3 1625.3,1290.1 1627.5,1300.2C1629.3,1308.5 1631.2,1323.2 1633.0,1338.0C1634.9,1353.4 1636.8,1374.8 1638.7,1394.0C1640.1,1408.5 1641.6,1428.2 1643.0,1438.6C1644.9,1452.4 1646.8,1464.0 1648.7,1469.8C1651.7,1478.8 1654.6,1487.7 1657.6,1487.7C1661.0,1487.7 1664.3,1477.7 1667.7,1467.6C1669.6,1462.0 1671.4,1448.2 1673.3,1438.6C1674.8,1431.1 1676.2,1420.4 1677.7,1416.2C1679.2,1412.0 1680.7,1407.3 1682.2,1407.3C1683.7,1407.3 1685.2,1416.9 1686.7,1429.6C1687.8,1438.9 1688.9,1480.6 1690.0,1505.5C1690.7,1522.1 1691.5,1554.6 1692.2,1554.6C1693.7,1554.6 1695.2,1532.5 1696.7,1516.7C1697.8,1505.1 1698.9,1483.2 1700.0,1472.0C1701.5,1456.8 1703.0,1439.5 1704.5,1436.3C1706.3,1432.3 1708.2,1429.6 1710.0,1429.6C1713.0,1429.6 1716.0,1440.8 1719.0,1440.8C1722.0,1440.8 1725.0,1431.4 1728.0,1427.4C1729.8,1425.0 1731.6,1420.7 1733.4,1420.7C1736.0,1420.7 1738.6,1421.7 1741.2,1427.4C1741.6,1428.2 1741.9,1454.9 1742.3,1461.0C1743.8,1486.0 1745.3,1490.6 1746.8,1505.5C1748.3,1520.3 1749.8,1537.4 1751.2,1550.2C1752.7,1563.0 1754.2,1576.0 1755.7,1583.7C1756.8,1589.4 1757.9,1597.0 1759.0,1597.0C1762.4,1597.0 1765.7,1595.8 1769.1,1592.6C1770.6,1591.2 1772.1,1567.7 1773.6,1550.2C1775.1,1533.1 1776.5,1506.4 1778.0,1483.2C1779.1,1465.3 1780.3,1444.2 1781.4,1427.4C1782.5,1411.1 1783.6,1391.0 1784.7,1382.8C1786.2,1371.6 1787.7,1365.3 1789.2,1360.4C1791.4,1353.1 1793.7,1348.5 1795.9,1344.8C1798.9,1339.9 1801.8,1335.0 1804.8,1333.7C1807.8,1332.4 1810.8,1332.9 1813.8,1331.4C1815.2,1330.6 1816.7,1321.4 1818.2,1321.4C1819.7,1321.4 1821.2,1325.5 1822.7,1338.0C1823.1,1341.1 1823.4,1383.8 1823.8,1394.0C1824.9,1424.5 1826.0,1435.7 1827.1,1450.0C1828.3,1465.6 1829.5,1478.6 1830.7,1487.7C1833.5,1508.6 1836.2,1515.5 1839.0,1533.7C1841.3,1549.0 1843.7,1565.8 1846.0,1589.5C1847.4,1603.7 1848.8,1633.9 1850.2,1645.3C1852.1,1660.5 1853.9,1677.4 1855.8,1677.4C1857.2,1677.4 1858.6,1677.4 1860.0,1677.4C1861.4,1677.4 1862.8,1629.6 1864.2,1617.4C1866.5,1597.1 1868.9,1585.0 1871.2,1575.6C1873.5,1566.3 1875.8,1561.3 1878.1,1554.6C1880.9,1546.4 1883.7,1535.2 1886.5,1531.0C1890.2,1525.4 1894.0,1528.3 1897.7,1519.8C1898.6,1517.7 1899.6,1496.3 1900.5,1478.0C1901.0,1468.2 1901.5,1449.5 1902.0,1438.6C1902.7,1422.6 1903.5,1400.9 1904.2,1398.4C1906.0,1392.2 1907.9,1394.2 1909.7,1389.5C1911.6,1384.8 1913.4,1360.4 1915.3,1356.0C1916.8,1352.5 1918.3,1349.3 1919.8,1349.3C1921.7,1349.3 1923.5,1367.0 1925.4,1367.0C1927.6,1367.0 1929.8,1344.8 1932.0,1344.8C1935.0,1344.8 1938.0,1360.4 1941.0,1360.4C1945.5,1360.4 1949.9,1345.8 1954.4,1340.4C1959.6,1334.1 1964.8,1332.9 1970.0,1324.7C1973.3,1319.4 1976.7,1293.5 1980.0,1293.5C1981.9,1293.5 1983.7,1303.2 1985.6,1315.8C1986.7,1323.4 1987.9,1355.8 1989.0,1371.6C1990.1,1387.0 1991.2,1405.3 1992.3,1411.8C1995.4,1429.9 1998.4,1443.5 2001.5,1443.5C2003.6,1443.5 2005.8,1430.2 2007.9,1420.7C2010.1,1410.7 2012.4,1390.2 2014.6,1380.6C2016.8,1371.0 2019.1,1365.6 2021.3,1358.2C2023.5,1350.8 2025.8,1339.8 2028.0,1335.9C2030.2,1332.0 2032.5,1328.0 2034.7,1328.0C2037.7,1328.0 2040.6,1332.4 2043.6,1335.9C2048.1,1341.1 2052.5,1351.6 2057.0,1360.5C2061.5,1369.4 2065.9,1380.6 2070.4,1389.5C2074.9,1398.4 2079.3,1406.6 2083.8,1414.0C2088.3,1421.4 2092.7,1428.2 2097.2,1434.1C2101.7,1440.0 2106.1,1444.6 2110.6,1449.8C2115.1,1455.0 2119.5,1458.1 2124.0,1465.4C2127.0,1470.2 2129.9,1487.7 2132.9,1487.7C2136.6,1487.7 2140.3,1482.9 2144.0,1478.8C2147.0,1475.5 2150.0,1467.6 2153.0,1463.2C2156.0,1458.9 2158.9,1455.3 2161.9,1452.0C2165.6,1447.8 2169.4,1440.8 2173.1,1440.8C2177.6,1440.8 2182.0,1440.8 2186.5,1440.8C2190.2,1440.8 2193.9,1429.7 2197.6,1429.7C2202.8,1429.7 2208.1,1434.1 2213.3,1434.1C2215.5,1434.1 2217.8,1420.1 2220.0,1416.3C2223.7,1410.0 2227.4,1402.9 2231.1,1402.9C2234.1,1402.9 2237.0,1402.9 2240.0,1402.9C2242.2,1402.9 2244.5,1416.3 2246.7,1416.3C2248.2,1416.3 2249.7,1407.4 2251.2,1398.4C2251.9,1394.0 2252.7,1377.0 2253.4,1376.1C2254.6,1374.7 2255.8,1374.7 2257.0,1374.0" stroke="#ff00ff" stroke-width="4.5"/>
</g>
<line x1="560.6" y1="122.8" x2="560.6" y2="1622" stroke="#c00000" stroke-width="8.4" stroke-dasharray="24.4 8.2"/>
<path d="M560.6,95.5 L577.1,130.9 L544.1,130.9 Z" fill="#c00000"/>
<rect x="556.4" y="1624" width="8.4" height="4" fill="#e8a0a0"/>
<line x1="1490.5" y1="78.7" x2="1490.5" y2="1576" stroke="#c00000" stroke-width="8.4" stroke-dasharray="24.4 8.2"/>
<path d="M1490.5,51 L1507.0,85.4 L1474.0,85.4 Z" fill="#c00000"/>
<rect x="1486.3" y="1578" width="8.4" height="4" fill="#e8a0a0"/>
<line x1="1763.8" y1="111" x2="1763.8" y2="1638" stroke="#c00000" stroke-width="8.4" stroke-dasharray="24.4 8.2"/>
<path d="M1763.8,83.5 L1780.3,118.8 L1747.3,118.8 Z" fill="#c00000"/>
<line x1="1857.6" y1="127" x2="1857.6" y2="1658" stroke="#c00000" stroke-width="8.4" stroke-dasharray="24.4 8.2"/>
<path d="M1857.6,99.6 L1874.1,134.3 L1841.1,134.3 Z" fill="#c00000"/>
<line x1="2139" y1="119" x2="2139" y2="1655" stroke="#c00000" stroke-width="8.4" stroke-dasharray="24.4 8.2"/>
<path d="M2139,91.1 L2155.5,126.7 L2122.5,126.7 Z" fill="#c00000"/>
<rect x="2134.8" y="1649" width="8.4" height="4" fill="#e8a0a0"/>
<rect x="169" y="24" width="2088" height="1684.5" fill="none" stroke="#262626" stroke-width="6"/>
<line x1="169.0" y1="1708.5" x2="169.0" y2="1740.5" stroke="#262626" stroke-width="4.3"/>
<line x1="313.9" y1="1708.5" x2="313.9" y2="1724.5" stroke="#262626" stroke-width="4.3"/>
<line x1="458.9" y1="1708.5" x2="458.9" y2="1740.5" stroke="#262626" stroke-width="4.3"/>
<line x1="603.8" y1="1708.5" x2="603.8" y2="1724.5" stroke="#262626" stroke-width="4.3"/>
<line x1="748.7" y1="1708.5" x2="748.7" y2="1740.5" stroke="#262626" stroke-width="4.3"/>
<line x1="893.6" y1="1708.5" x2="893.6" y2="1724.5" stroke="#262626" stroke-width="4.3"/>
<line x1="1038.6" y1="1708.5" x2="1038.6" y2="1740.5" stroke="#262626" stroke-width="4.3"/>
<line x1="1183.5" y1="1708.5" x2="1183.5" y2="1724.5" stroke="#262626" stroke-width="4.3"/>
<line x1="1328.4" y1="1708.5" x2="1328.4" y2="1740.5" stroke="#262626" stroke-width="4.3"/>
<line x1="1473.4" y1="1708.5" x2="1473.4" y2="1724.5" stroke="#262626" stroke-width="4.3"/>
<line x1="1618.3" y1="1708.5" x2="1618.3" y2="1740.5" stroke="#262626" stroke-width="4.3"/>
<line x1="1763.2" y1="1708.5" x2="1763.2" y2="1724.5" stroke="#262626" stroke-width="4.3"/>
<line x1="1908.1" y1="1708.5" x2="1908.1" y2="1740.5" stroke="#262626" stroke-width="4.3"/>
<line x1="2053.1" y1="1708.5" x2="2053.1" y2="1724.5" stroke="#262626" stroke-width="4.3"/>
<line x1="2198.0" y1="1708.5" x2="2198.0" y2="1740.5" stroke="#262626" stroke-width="4.3"/>
<text transform="translate(169.0,1819.3) scale(0.955,1)" text-anchor="middle" font-family="Liberation Sans, sans-serif" font-size="74.8" stroke="#ffffff" stroke-width="0.6" stroke-linejoin="round">4000</text>
<text transform="translate(458.9,1819.3) scale(0.955,1)" text-anchor="middle" font-family="Liberation Sans, sans-serif" font-size="74.8" stroke="#ffffff" stroke-width="0.6" stroke-linejoin="round">3500</text>
<text transform="translate(748.7,1819.3) scale(0.955,1)" text-anchor="middle" font-family="Liberation Sans, sans-serif" font-size="74.8" stroke="#ffffff" stroke-width="0.6" stroke-linejoin="round">3000</text>
<text transform="translate(1038.6,1819.3) scale(0.955,1)" text-anchor="middle" font-family="Liberation Sans, sans-serif" font-size="74.8" stroke="#ffffff" stroke-width="0.6" stroke-linejoin="round">2500</text>
<text transform="translate(1328.4,1819.3) scale(0.955,1)" text-anchor="middle" font-family="Liberation Sans, sans-serif" font-size="74.8" stroke="#ffffff" stroke-width="0.6" stroke-linejoin="round">2000</text>
<text transform="translate(1618.3,1819.3) scale(0.955,1)" text-anchor="middle" font-family="Liberation Sans, sans-serif" font-size="74.8" stroke="#ffffff" stroke-width="0.6" stroke-linejoin="round"><tspan font-family="NanumGothic, 'Liberation Sans', sans-serif" font-size="69.71">1</tspan>500</text>
<text transform="translate(1908.1,1819.3) scale(0.955,1)" text-anchor="middle" font-family="Liberation Sans, sans-serif" font-size="74.8" stroke="#ffffff" stroke-width="0.6" stroke-linejoin="round"><tspan font-family="NanumGothic, 'Liberation Sans', sans-serif" font-size="69.71">1</tspan>000</text>
<text transform="translate(2198.0,1819.3) scale(0.955,1)" text-anchor="middle" font-family="Liberation Sans, sans-serif" font-size="74.8" stroke="#ffffff" stroke-width="0.6" stroke-linejoin="round">500</text>
<text transform="translate(840.4,1932.2) scale(0.974,1.043)" font-family="Liberation Sans, sans-serif" font-weight="normal" font-size="90" stroke="#ffffff" stroke-width="1.4" stroke-linejoin="round" >Wavenumber(cm</text>
<text transform="translate(1500.3,1896.5) scale(1.0,1.0)" font-family="Liberation Sans, sans-serif" font-weight="normal" font-size="63" stroke="#ffffff" stroke-width="1.0" stroke-linejoin="round" >-</text>
<text transform="translate(1530.5,1896.5) scale(0.9,1)" font-family="NanumGothic, 'Liberation Sans', sans-serif" font-size="64.31" stroke="#ffffff" stroke-width="1.0" stroke-linejoin="round">1</text>
<text transform="translate(1559.2,1932.2) scale(1.0,0.98)" font-family="Liberation Sans, sans-serif" font-weight="normal" font-size="91" stroke="#ffffff" stroke-width="1.4" stroke-linejoin="round" >)</text>
<text transform="translate(95.65,1169.4) rotate(-90) scale(1,1.145)" font-family="Liberation Sans, sans-serif" font-size="88.4" stroke="#ffffff" stroke-width="1.5" stroke-linejoin="round">Transmittance(a.u.)</text>
<text transform="translate(1156.60,121.80) scale(1.0204,0.9337)" font-family="'Liberation Sans', sans-serif" font-weight="bold" font-size="70" stroke="#ffffff" stroke-width="0.64" stroke-linejoin="round">M</text>
<text transform="translate(1203.06,121.80) scale(1.2686,0.8477)" font-family="NanumGothic, 'Liberation Sans', sans-serif" font-weight="bold" font-size="70" stroke="#ffffff" stroke-width="0.71" stroke-linejoin="round">1</text>
<text transform="translate(1156.19,346.30) scale(1.0224,0.9027)" font-family="'Liberation Sans', sans-serif" font-weight="bold" font-size="70" stroke="#ffffff" stroke-width="0.66" stroke-linejoin="round">M</text>
<text transform="translate(1212.78,346.30) scale(0.8688,0.8898)" font-family="'Liberation Sans', sans-serif" font-weight="bold" font-size="70" stroke="#ffffff" stroke-width="0.69" stroke-linejoin="round">2</text>
<text transform="translate(1156.19,501.30) scale(1.0224,0.8923)" font-family="'Liberation Sans', sans-serif" font-weight="bold" font-size="70" stroke="#ffffff" stroke-width="0.67" stroke-linejoin="round">M</text>
<text transform="translate(1213.56,501.30) scale(0.7429,0.8796)" font-family="'Liberation Sans', sans-serif" font-weight="bold" font-size="70" stroke="#ffffff" stroke-width="0.81" stroke-linejoin="round">3</text>
<text transform="translate(1152.79,717.30) scale(0.9408,0.9027)" font-family="'Liberation Sans', sans-serif" font-weight="bold" font-size="70" stroke="#ffffff" stroke-width="0.66" stroke-linejoin="round">M</text>
<text transform="translate(1205.43,717.30) scale(0.9057,0.9027)" font-family="'Liberation Sans', sans-serif" font-weight="bold" font-size="70" stroke="#ffffff" stroke-width="0.66" stroke-linejoin="round">4</text>
<text transform="translate(1156.19,999.30) scale(1.0224,0.9027)" font-family="'Liberation Sans', sans-serif" font-weight="bold" font-size="70" stroke="#ffffff" stroke-width="0.66" stroke-linejoin="round">M</text>
<text transform="translate(1213.04,999.30) scale(0.7429,0.9027)" font-family="'Liberation Sans', sans-serif" font-weight="bold" font-size="70" stroke="#ffffff" stroke-width="0.81" stroke-linejoin="round">5</text>
<text transform="translate(1152.39,1233.30) scale(1.0224,0.9027)" font-family="'Liberation Sans', sans-serif" font-weight="bold" font-size="70" stroke="#ffffff" stroke-width="0.66" stroke-linejoin="round">M</text>
<text transform="translate(1212.43,1233.30) scale(0.7738,0.8898)" font-family="'Liberation Sans', sans-serif" font-weight="bold" font-size="70" stroke="#ffffff" stroke-width="0.78" stroke-linejoin="round">6</text>
<text transform="translate(478.5,1689.4) scale(0.983,1.0)" font-family="Liberation Serif, serif" font-weight="bold" font-size="70" stroke="#ffffff" stroke-width="2.0" stroke-linejoin="round" >O–H</text>
<text transform="translate(731.6,1518.5) scale(0.98,1.0)" font-family="Liberation Serif, serif" font-weight="bold" font-size="70" stroke="#ffffff" stroke-width="2.0" stroke-linejoin="round" >C–H</text>
<text transform="translate(1413.0,1644.5) scale(0.97,1.0)" font-family="Liberation Serif, serif" font-weight="bold" font-size="70" stroke="#ffffff" stroke-width="2.0" stroke-linejoin="round" >C=C</text>
<text transform="translate(1681.9,1689.7) scale(1.0,1.0)" font-family="Liberation Serif, serif" font-weight="bold" font-size="70" stroke="#ffffff" stroke-width="2.0" stroke-linejoin="round" >–CH</text>
<text transform="translate(1814.3,1701.3) scale(1.0,1.0)" font-family="Liberation Serif, serif" font-weight="bold" font-size="48" stroke="#ffffff" stroke-width="1.6" stroke-linejoin="round" >3</text>
<text transform="translate(1865.3,1678.0) scale(0.983,1.0)" font-family="Liberation Serif, serif" font-weight="bold" font-size="70" stroke="#ffffff" stroke-width="2.0" stroke-linejoin="round" >–OH</text>
<text transform="translate(2064.7,1693.8) scale(0.99,1.0)" font-family="Liberation Serif, serif" font-weight="bold" font-size="70" stroke="#ffffff" stroke-width="2.0" stroke-linejoin="round" >O–H</text>
</svg>
</body></html>
